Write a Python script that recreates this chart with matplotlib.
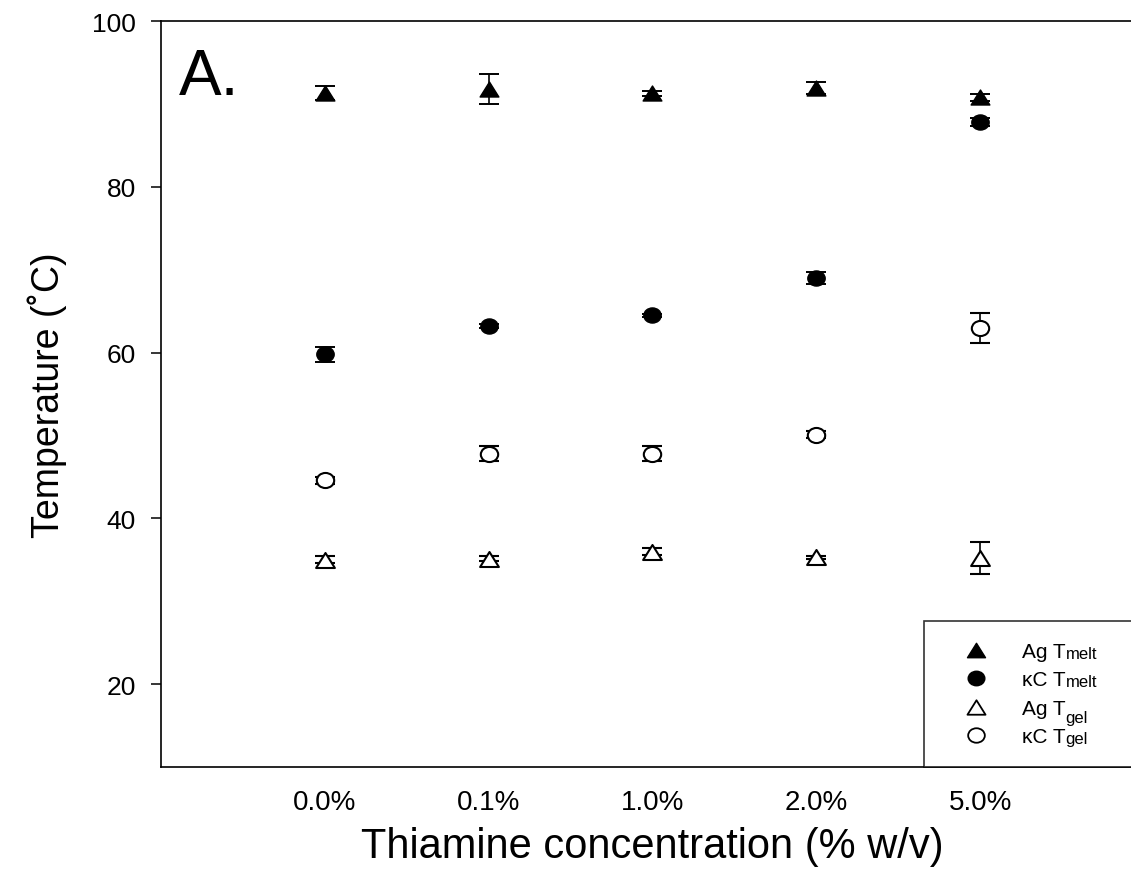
import matplotlib.pyplot as plt
from matplotlib.path import Path
from matplotlib.transforms import Affine2D
from matplotlib.lines import Line2D

plt.rcParams["font.family"] = ["Liberation Sans", "DejaVu Sans"]

concentrations = ["0.0%", "0.1%", "1.0%", "2.0%", "5.0%"]

ag_tmelt = [91.3, 91.8, 91.3, 91.9, 90.8]
ag_tmelt_err = [0.8, 1.8, 0.3, 0.7, 0.4]
kc_tmelt = [59.8, 63.2, 64.5, 69.0, 87.8]
kc_tmelt_err = [0.9, 0.2, 0.2, 0.7, 0.5]
ag_tgel = [35.0, 35.1, 36.0, 35.3, 35.2]
ag_tgel_err = [0.4, 0.3, 0.4, 0.2, 1.9]
kc_tgel = [44.6, 47.8, 47.8, 50.1, 63.0]
kc_tgel_err = [0.45, 0.9, 0.9, 0.4, 1.8]

x = list(range(len(concentrations)))

# markers are slightly wider than tall in the original
tri = Path([(0, 1), (-1.25, -1), (1.25, -1), (0, 1)],
           [Path.MOVETO, Path.LINETO, Path.LINETO, Path.CLOSEPOLY])
circ = Path.unit_circle().transformed(Affine2D().scale(1.15, 1))

fig = plt.figure(figsize=(11.31, 8.70), dpi=100)
ax = fig.add_axes([0.1424, 0.1172, 0.869, 0.8575])

style = dict(ls="none", ecolor="black", elinewidth=1.2, capsize=7, capthick=1.4)
ax.errorbar(x, ag_tmelt, yerr=ag_tmelt_err, marker=tri, ms=13.5, mfc="black", mec="black", **style)
ax.errorbar(x, kc_tmelt, yerr=kc_tmelt_err, marker=circ, ms=12.5, mfc="black", mec="black", **style)
ax.errorbar(x, ag_tgel, yerr=ag_tgel_err, marker=tri, ms=13.5, mfc="white", mec="black", mew=1.5, **style)
ax.errorbar(x, kc_tgel, yerr=kc_tgel_err, marker=circ, ms=12.5, mfc="white", mec="black", mew=1.5, **style)

ax.set_xlim(-1, 5)
ax.set_ylim(10, 100)
ax.set_yticks([20, 40, 60, 80, 100])
ax.set_xticks(x)
ax.set_xticklabels(concentrations)
ax.tick_params(axis="x", length=0, pad=16, labelsize=20)
ax.tick_params(axis="y", direction="out", length=7, width=1.1, pad=11, labelsize=19)
ax.spines["right"].set_visible(False)
for s in ["left", "top", "bottom"]:
    ax.spines[s].set_linewidth(1.2)

ax.set_xlabel("Thiamine concentration (% w/v)", fontsize=30, labelpad=8)
ax.set_ylabel("Temperature (˚C)", fontsize=27, labelpad=18)

ax.text(0.018, 0.965, "A.", transform=ax.transAxes, fontsize=46, va="top", ha="left")

handles = [
    Line2D([], [], ls="none", marker=tri, ms=13, mfc="black", mec="black"),
    Line2D([], [], ls="none", marker=circ, ms=12, mfc="black", mec="black"),
    Line2D([], [], ls="none", marker=tri, ms=13, mfc="white", mec="black", mew=1.3),
    Line2D([], [], ls="none", marker=circ, ms=12, mfc="white", mec="black", mew=1.3),
]
leg = fig.legend(handles, ["Ag T", "κC T", "Ag T", "κC T"],
                 loc="lower left", bbox_to_anchor=(924 / 1131, 102 / 870, 230 / 1131, 146 / 870),
                 mode="expand", frameon=True, fancybox=False, edgecolor="black",
                 fontsize=15, handletextpad=0.7, labelspacing=0.45, borderpad=1.0,
                 handlelength=3.0, borderaxespad=0)
leg.get_frame().set_linewidth(1.2)

# small "melt"/"gel" parts after the T
suffixes = [("melt", 0), ("melt", 0), ("gel", -5), ("gel", 0)]
for txt, (suf, dy) in zip(leg.get_texts(), suffixes):
    ann = plt.Annotation(suf, xy=(1, 0), xycoords=txt, xytext=(0, dy),
                         textcoords="offset points", fontsize=12, va="bottom", ha="left")
    ann.set_zorder(10)
    fig.add_artist(ann)

fig.savefig("out.png", dpi=100)
